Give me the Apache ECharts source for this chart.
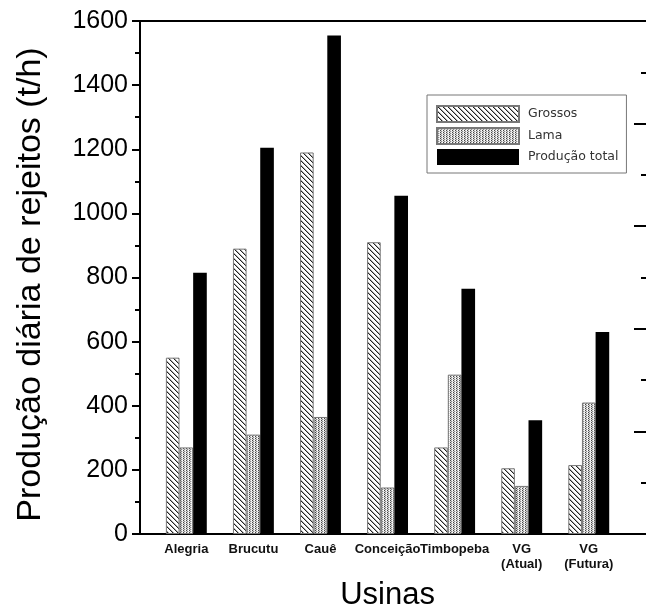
<!DOCTYPE html>
<html><head><meta charset="utf-8">
<script src="https://cdn.jsdelivr.net/npm/echarts@6/dist/echarts.min.js"></script>
<style>html,body{margin:0;padding:0;background:#fff}#c{width:646px;height:611px}</style>
</head><body><div id="c"></div>
<script>
const categories = ['Alegria', 'Brucutu', 'Cauê', 'Conceição', 'Timbopeba', 'VG\n(Atual)', 'VG\n(Futura)'];
const grossos = [550, 890, 1190, 910, 270, 205, 215];
const lama = [270, 310, 365, 145, 497, 150, 410];
const total = [815, 1205, 1555, 1055, 765, 355, 630];
const seriesNames = ['Grossos', 'Lama', 'Produção total'];
const yTicks = [0, 1600, 200];

function makeHatch() {
  const c = document.createElement('canvas'); c.width = 5; c.height = 5;
  const x = c.getContext('2d');
  x.fillStyle = '#fff'; x.fillRect(0, 0, 5, 5);
  x.fillStyle = '#222';
  for (let i = 0; i < 5; i++) x.fillRect(i, i, 1, 1);
  x.fillStyle = '#aaa';
  for (let i = 0; i < 5; i++) x.fillRect((i + 1) % 5, i, 1, 1);
  return c;
}
function makeDots() {
  const c = document.createElement('canvas'); c.width = 3; c.height = 2;
  const x = c.getContext('2d');
  x.fillStyle = '#d8d8d8'; x.fillRect(0, 0, 3, 2);
  x.fillStyle = '#444';
  x.fillRect(0, 0, 1, 1);
  x.fillStyle = '#888';
  x.fillRect(1, 1, 1, 1);
  x.fillStyle = '#fff';
  x.fillRect(2, 0, 1, 1);
  return c;
}

const chart = echarts.init(document.getElementById('c'), null, {renderer: 'canvas'});
const frameLine = {show: true, onZero: false, lineStyle: {color: '#000', width: 2}};
chart.setOption({
  animation: false,
  backgroundColor: '#fff',
  textStyle: {fontFamily: 'Liberation Sans'},
  grid: [
    {left: 140, top: 21, width: 507, height: 513, outerBoundsMode: 'none', containLabel: false},
    {left: 152.8, top: 21, width: 469.5, height: 513, outerBoundsMode: 'none', containLabel: false}
  ],
  legend: {
    orient: 'vertical', left: 427, top: 95,
    itemWidth: 82, itemHeight: 16, itemGap: 4,
    padding: [10, 8, 8, 9],
    borderColor: '#777', borderWidth: 1,
    icon: 'rect',
    textStyle: {fontFamily: 'DejaVu Sans', fontSize: 12.5, color: '#333', padding: [0, 0, 0, 4]},
    data: seriesNames
  },
  xAxis: [
    {gridIndex: 0, type: 'value', min: 0, max: 1, position: 'bottom', axisLine: frameLine, axisTick: {show: false}, axisLabel: {show: false}, splitLine: {show: false}},
    {gridIndex: 0, type: 'value', min: 0, max: 1, position: 'top', axisLine: frameLine, axisTick: {show: false}, axisLabel: {show: false}, splitLine: {show: false}},
    {gridIndex: 1, type: 'category', data: categories, position: 'bottom',
     axisLine: {show: false}, axisTick: {show: false},
     axisLabel: {fontFamily: 'Liberation Sans', fontWeight: 'bold', fontSize: 13, color: '#111', margin: 8, lineHeight: 15, interval: 0, hideOverlap: false},
     name: 'Usinas', nameLocation: 'middle', nameGap: 46,
     nameTextStyle: {fontFamily: 'Liberation Sans', fontSize: 31, color: '#000'}}
  ],
  yAxis: [
    {gridIndex: 0, type: 'value', min: yTicks[0], max: yTicks[1], interval: yTicks[2], position: 'left',
     axisLine: frameLine,
     axisTick: {show: true, inside: false, length: 8, lineStyle: {width: 2, color: '#000'}},
     minorTick: {show: true, splitNumber: 2, length: 5, lineStyle: {width: 2, color: '#000'}},
     axisLabel: {fontFamily: 'Liberation Sans', fontSize: 25, color: '#000', margin: 12, formatter: v => String(v)},
     splitLine: {show: false},
     name: 'Produção diária de rejeitos (t/h)', nameLocation: 'middle', nameGap: 92, nameRotate: 90,
     nameTextStyle: {fontFamily: 'Liberation Sans', fontSize: 34, color: '#000', padding: [0, 14, 0, 0]}},
    {gridIndex: 0, type: 'value', min: 0, max: 5, interval: 1, position: 'right',
     axisLine: frameLine,
     axisTick: {show: true, inside: true, length: 13, lineStyle: {width: 2, color: '#000'}},
     minorTick: {show: true, splitNumber: 2, length: 6, lineStyle: {width: 2, color: '#000'}},
     axisLabel: {show: false}, splitLine: {show: false}},
    {gridIndex: 1, type: 'value', min: yTicks[0], max: yTicks[1], show: false, splitLine: {show: false}}
  ],
  series: [
    {name: seriesNames[0], type: 'bar', xAxisIndex: 2, yAxisIndex: 2, data: grossos, barGap: '0%', barCategoryGap: '39%',
     itemStyle: {color: {image: makeHatch(), repeat: 'repeat'}, borderColor: '#777', borderWidth: 1}},
    {name: seriesNames[1], type: 'bar', xAxisIndex: 2, yAxisIndex: 2, data: lama, barGap: '0%', barCategoryGap: '39%',
     itemStyle: {color: {image: makeDots(), repeat: 'repeat'}, borderColor: '#777', borderWidth: 1}},
    {name: seriesNames[2], type: 'bar', xAxisIndex: 2, yAxisIndex: 2, data: total, barGap: '0%', barCategoryGap: '39%',
     itemStyle: {color: '#000', borderColor: '#000', borderWidth: 0}}
  ]
});
</script></body></html>
